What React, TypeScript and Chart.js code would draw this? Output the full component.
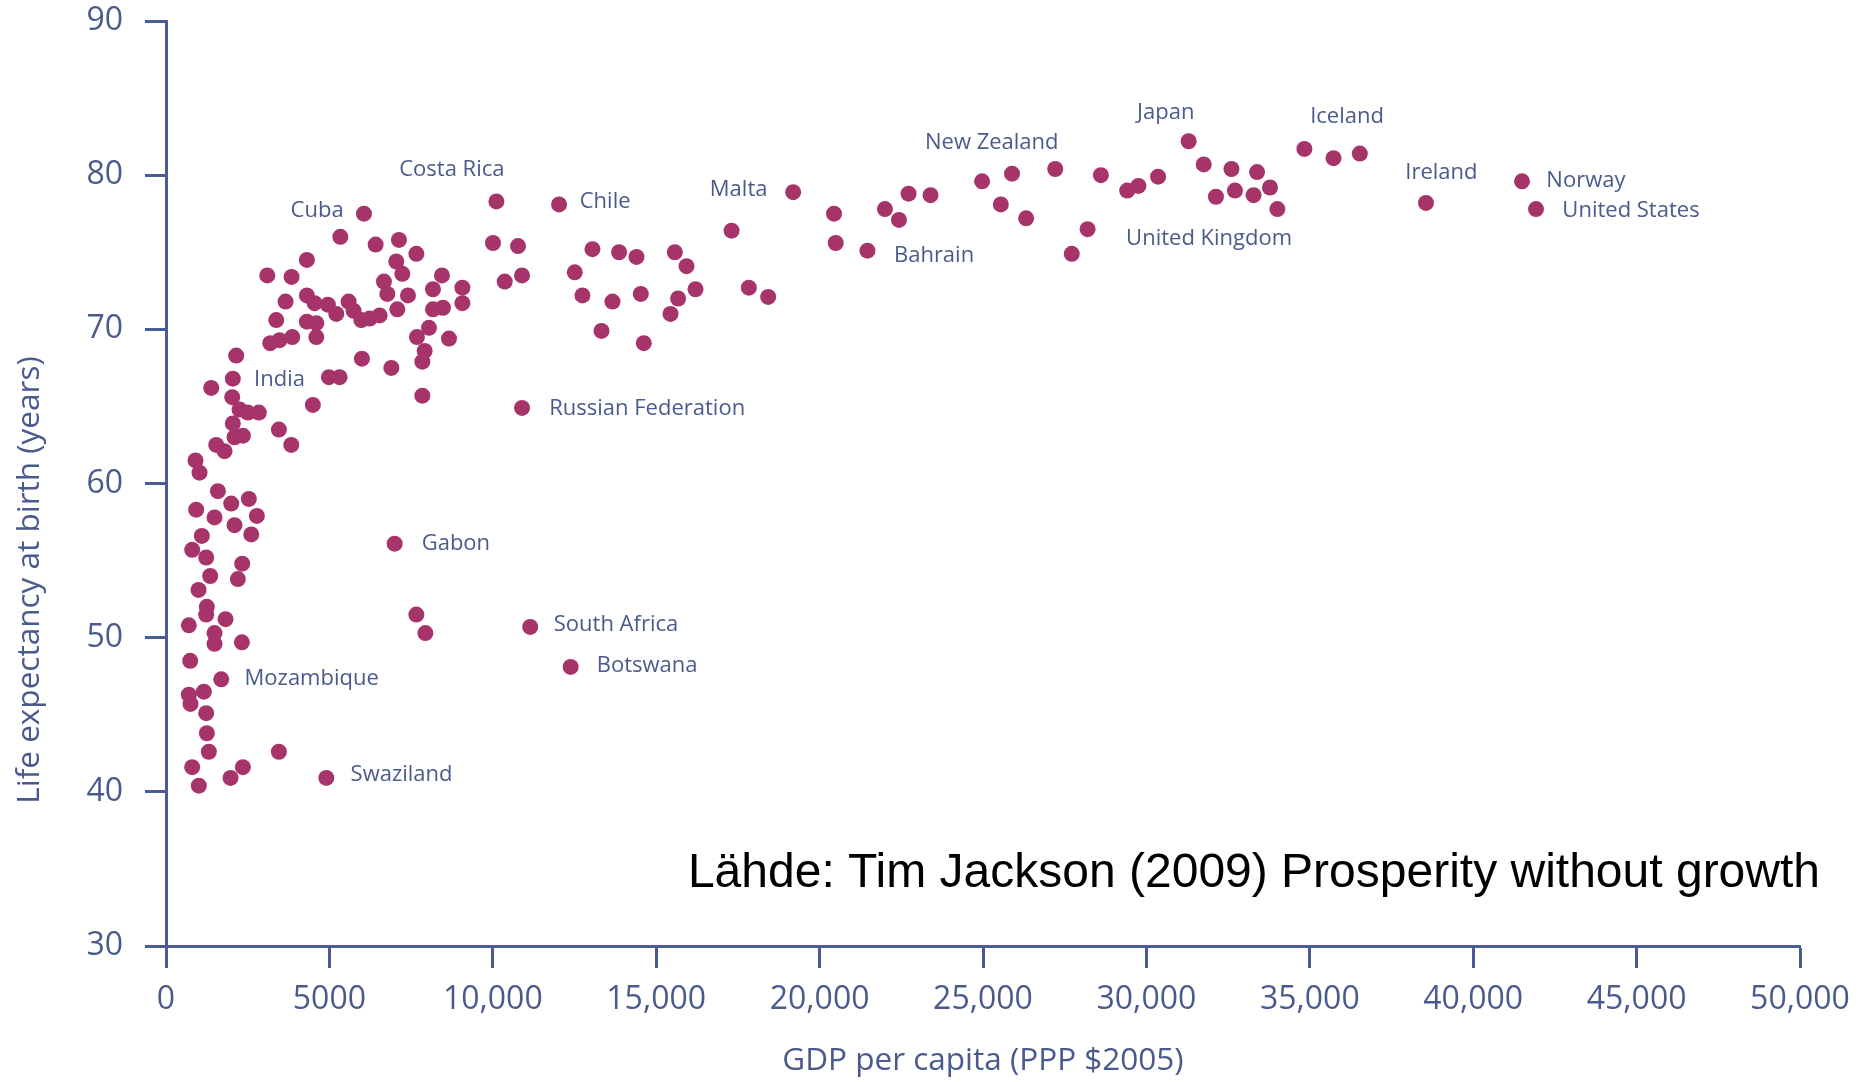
import { useEffect, useRef } from 'react';
import { Chart, registerables } from 'chart.js';

Chart.register(...registerables);

// GDP per capita (PPP $2005) for each country dot
const gdpPerCapita = [
  2045, 1384, 2149, 2026, 2250, 2505, 2842, 2045, 2352, 2097,
  1537, 1791, 903, 1026, 3454, 3833, 4494, 1588, 1996, 2535,
  924, 1485, 2097, 2780, 1096, 2609, 801, 1230, 2332, 1352,
  2199, 995, 1250, 1230, 1822, 699, 1485, 1485, 2322, 740,
  1690, 699, 1158, 750, 1230, 1250, 1311, 3454, 801, 2352,
  1005, 1975, 4905, 6997, 7661, 7937, 11145, 12382,
  6057, 5334, 6415, 7128, 7661, 4311, 3099, 3843, 7048, 7232,
  6669, 6773, 7404, 7079, 8445, 8169, 9069, 9069, 8169, 8475,
  8047, 7679, 8659, 7915, 7844, 7844, 3659, 3374, 4311, 4547,
  4954, 5211, 5588, 5741, 5977, 6231, 6537, 4311, 4599, 4599,
  3190, 3475, 3864, 5995, 6895, 4985, 5312,
  10110, 10006, 10772, 10365, 10894, 10894, 12027, 13049, 13864, 14397,
  12508, 12743, 13662, 14529, 15570, 15928, 16203, 15671, 15438, 13325,
  14620, 17306, 17835, 18426, 19191, 20441, 20494, 21464, 21999, 22428,
  22722, 23395, 24972, 25545, 25888, 26320, 27211, 27716, 28200, 28607,
  29413, 29756, 30358, 31292, 31754, 32128, 32603, 32710, 33280, 33387,
  33782, 34008, 34835, 35726, 36531, 38555, 41494, 41922,
];

// Life expectancy at birth (years), same order
const lifeExpectancy = [
  66.8, 66.2, 68.3, 65.6, 64.8, 64.6, 64.6, 63.9, 63.1, 63.0,
  62.5, 62.1, 61.5, 60.7, 63.5, 62.5, 65.1, 59.5, 58.7, 59.0,
  58.3, 57.8, 57.3, 57.9, 56.6, 56.7, 55.7, 55.2, 54.8, 54.0,
  53.8, 53.1, 52.0, 51.5, 51.2, 50.8, 50.3, 49.6, 49.7, 48.5,
  47.3, 46.3, 46.5, 45.7, 45.1, 43.8, 42.6, 42.6, 41.6, 41.6,
  40.4, 40.9, 40.9, 56.1, 51.5, 50.3, 50.7, 48.1,
  77.5, 76.0, 75.5, 75.8, 74.9, 74.5, 73.5, 73.4, 74.4, 73.6,
  73.1, 72.3, 72.2, 71.3, 73.5, 72.6, 72.7, 71.7, 71.3, 71.4,
  70.1, 69.5, 69.4, 68.6, 67.9, 65.7, 71.8, 70.6, 72.2, 71.7,
  71.6, 71.0, 71.8, 71.2, 70.6, 70.7, 70.9, 70.5, 70.4, 69.5,
  69.1, 69.3, 69.5, 68.1, 67.5, 66.9, 66.9,
  78.3, 75.6, 75.4, 73.1, 73.5, 64.9, 78.1, 75.2, 75.0, 74.7,
  73.7, 72.2, 71.8, 72.3, 75.0, 74.1, 72.6, 72.0, 71.0, 69.9,
  69.1, 76.4, 72.7, 72.1, 78.9, 77.5, 75.6, 75.1, 77.8, 77.1,
  78.8, 78.7, 79.6, 78.1, 80.1, 77.2, 80.4, 74.9, 76.5, 80.0,
  79.0, 79.3, 79.9, 82.2, 80.7, 78.6, 80.4, 79.0, 78.7, 80.2,
  79.2, 77.8, 81.7, 81.1, 81.4, 78.2, 79.6, 77.8,
];

const xTicks = [0, 5000, 10000, 15000, 20000, 25000, 30000, 35000, 40000, 45000, 50000];
const yTicks = [30, 40, 50, 60, 70, 80, 90];

// Country labels: text and the left-middle anchor of each label in data units
const labelNames = [
  'Costa Rica', 'Cuba', 'Chile', 'Malta', 'New Zealand', 'Japan', 'Iceland',
  'Ireland', 'Norway', 'United States', 'United Kingdom', 'Bahrain', 'India',
  'Russian Federation', 'Gabon', 'South Africa', 'Botswana', 'Mozambique', 'Swaziland',
];
const labelGdp = [
  7137, 3812, 12661, 16641, 23224, 29715, 35012,
  37921, 42238, 42728, 29379, 22275, 2694,
  11727, 7823, 11865, 13181, 2404, 5649,
];
const labelLife = [
  80.35, 77.72, 78.28, 79.05, 82.11, 84.05, 83.82,
  80.19, 79.64, 77.72, 75.87, 74.79, 66.76,
  64.84, 56.10, 50.85, 48.15, 47.31, 41.14,
];

const xTitle = 'GDP per capita (PPP $2005)';
const yTitle = 'Life expectancy at birth (years)';
const sourceText = 'Lähde: Tim Jackson (2009) Prosperity without growth';

const DOT = '#a7336b';
const AXIS = '#4a5b95';
const TEXT = '#4a5a8c';

export default function App() {
  const canvasRef = useRef<HTMLCanvasElement | null>(null);

  useEffect(() => {
    const canvas = canvasRef.current;
    if (!canvas) return;

    const textPlugin = {
      id: 'textOverlay',
      afterDraw(chart: any) {
        const ctx = chart.ctx;
        const xs = chart.scales.x;
        const ys = chart.scales.y;
        const area = chart.chartArea;
        ctx.save();
        // country labels
        ctx.fillStyle = TEXT;
        ctx.font = '22px "Open Sans"';
        ctx.textAlign = 'left';
        ctx.textBaseline = 'middle';
        labelNames.forEach((name, i) => {
          ctx.fillText(name, xs.getPixelForValue(labelGdp[i]), ys.getPixelForValue(labelLife[i]));
        });
        // axis titles
        ctx.font = '31.5px "Open Sans"';
        ctx.textAlign = 'center';
        ctx.textBaseline = 'middle';
        ctx.fillText(xTitle, (area.left + area.right) / 2, 1061);
        ctx.save();
        ctx.translate(30, 580);
        ctx.rotate(-Math.PI / 2);
        ctx.fillText(yTitle, 0, 0);
        ctx.restore();
        // source
        ctx.fillStyle = '#000000';
        ctx.font = '48px "Liberation Sans", Arial, sans-serif';
        ctx.textAlign = 'right';
        ctx.textBaseline = 'alphabetic';
        ctx.fillText(sourceText, 1820, 887);
        ctx.restore();
      },
    };

    const chart = new Chart(canvas, {
      type: 'scatter',
      data: {
        datasets: [
          {
            data: gdpPerCapita.map((g, i) => ({ x: g, y: lifeExpectancy[i] })),
            backgroundColor: DOT,
            borderWidth: 0,
            pointRadius: 8,
            pointHoverRadius: 8,
          },
        ],
      },
      options: {
        responsive: false,
        animation: false,
        events: [],
        layout: { padding: { top: 21, right: 65, bottom: 0, left: 0 } },
        plugins: {
          legend: { display: false },
          tooltip: { enabled: false },
          title: { display: false },
        },
        scales: {
          x: {
            type: 'linear',
            min: 0,
            max: 50000,
            afterBuildTicks: (scale: any) => {
              scale.ticks = xTicks.map((v) => ({ value: v }));
            },
            afterFit: (scale: any) => {
              scale.height = 136;
            },
            ticks: {
              color: TEXT,
              font: { family: '"Open Sans"', size: 32 },
              padding: 13,
              maxRotation: 0,
              autoSkip: false,
              callback: (v: any) => (Number(v) < 10000 ? String(v) : Number(v).toLocaleString('en-US')),
            },
            grid: {
              display: true,
              drawOnChartArea: false,
              drawTicks: true,
              tickLength: 22,
              tickColor: AXIS,
              tickWidth: 3,
              color: AXIS,
            },
            border: { display: true, color: AXIS, width: 3 },
          },
          y: {
            type: 'linear',
            min: 30,
            max: 90,
            afterBuildTicks: (scale: any) => {
              scale.ticks = yTicks.map((v) => ({ value: v }));
            },
            afterFit: (scale: any) => {
              scale.width = 166;
              scale.paddingTop = 0;
              scale.paddingBottom = 0;
            },
            ticks: {
              color: TEXT,
              font: { family: '"Open Sans"', size: 32 },
              padding: 22,
              autoSkip: false,
            },
            grid: {
              display: true,
              drawOnChartArea: false,
              drawTicks: true,
              tickLength: 21,
              tickColor: AXIS,
              tickWidth: 3,
              color: AXIS,
            },
            border: { display: true, color: AXIS, width: 3 },
          },
        },
      },
      plugins: [textPlugin],
    } as any);

    return () => {
      chart.destroy();
    };
  }, []);

  return (
    <div style={{ position: 'fixed', left: 0, top: 0, width: 1865, height: 1082, background: '#ffffff' }}>
      <canvas ref={canvasRef} width={1865} height={1082} style={{ display: 'block', width: 1865, height: 1082 }} />
    </div>
  );
}
